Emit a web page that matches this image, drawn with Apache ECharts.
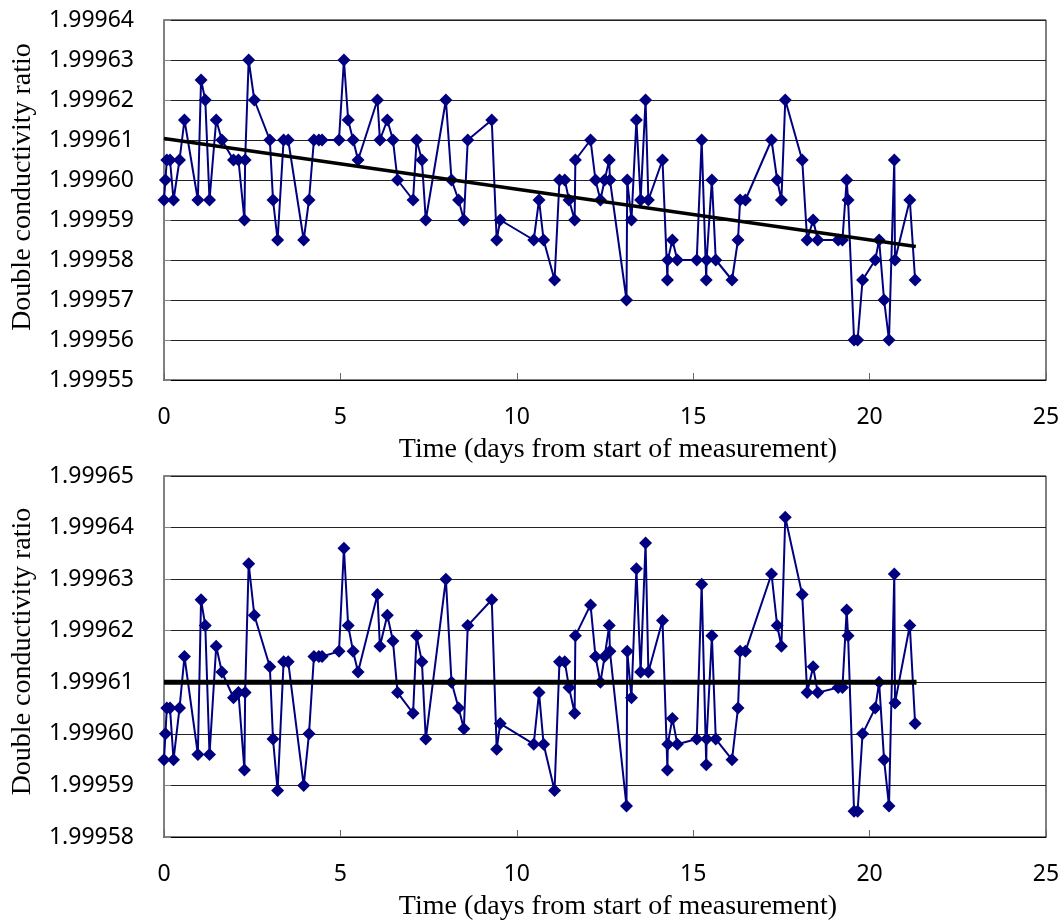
<!DOCTYPE html>
<html>
<head>
<meta charset="utf-8">
<script src="https://cdn.jsdelivr.net/npm/echarts@6/dist/echarts.min.js"></script>
<style>
  html, body { margin: 0; padding: 0; background: #fff; }
  #chart { width: 1064px; height: 924px; }
</style>
</head>
<body>
<div id="chart"></div>
<script>
// time in days (shared by both panels)
var days = [
  0.00, 0.04, 0.08, 0.17, 0.27, 0.44, 0.58, 0.96, 1.05, 1.17,
  1.29, 1.48, 1.64, 1.97, 2.11, 2.28, 2.30, 2.40, 2.56, 3.00,
  3.09, 3.22, 3.39, 3.52, 3.96, 4.11, 4.25, 4.39, 4.48, 4.96,
  5.10, 5.22, 5.36, 5.50, 6.05, 6.12, 6.33, 6.49, 6.62, 7.06,
  7.16, 7.31, 7.42, 7.99, 8.15, 8.35, 8.50, 8.61, 9.29, 9.43,
  9.53, 10.48, 10.63, 10.76, 11.07, 11.21, 11.36, 11.48, 11.64, 11.66,
  12.09, 12.23, 12.37, 12.49, 12.62, 12.64, 13.11, 13.13, 13.25, 13.39,
  13.51, 13.65, 13.73, 14.13, 14.27, 14.28, 14.41, 14.55, 15.10, 15.24,
  15.37, 15.38, 15.53, 15.64, 16.10, 16.27, 16.33, 16.48, 17.22, 17.38,
  17.50, 17.61, 18.09, 18.23, 18.40, 18.53, 19.11, 19.23, 19.35, 19.39,
  19.56, 19.66, 19.80, 20.16, 20.27, 20.41, 20.55, 20.70, 20.72, 21.14,
  21.29
];

// raw ratio (top panel)
var rawRatio = [
  1.999595, 1.999600, 1.999605, 1.999605, 1.999595, 1.999605, 1.999615, 1.999595, 1.999625, 1.999620,
  1.999595, 1.999615, 1.999610, 1.999605, 1.999605, 1.999590, 1.999605, 1.999630, 1.999620, 1.999610,
  1.999595, 1.999585, 1.999610, 1.999610, 1.999585, 1.999595, 1.999610, 1.999610, 1.999610, 1.999610,
  1.999630, 1.999615, 1.999610, 1.999605, 1.999620, 1.999610, 1.999615, 1.999610, 1.999600, 1.999595,
  1.999610, 1.999605, 1.999590, 1.999620, 1.999600, 1.999595, 1.999590, 1.999610, 1.999615, 1.999585,
  1.999590, 1.999585, 1.999595, 1.999585, 1.999575, 1.999600, 1.999600, 1.999595, 1.999590, 1.999605,
  1.999610, 1.999600, 1.999595, 1.999600, 1.999605, 1.999600, 1.999570, 1.999600, 1.999590, 1.999615,
  1.999595, 1.999620, 1.999595, 1.999605, 1.999575, 1.999580, 1.999585, 1.999580, 1.999580, 1.999610,
  1.999575, 1.999580, 1.999600, 1.999580, 1.999575, 1.999585, 1.999595, 1.999595, 1.999610, 1.999600,
  1.999595, 1.999620, 1.999605, 1.999585, 1.999590, 1.999585, 1.999585, 1.999585, 1.999600, 1.999595,
  1.999560, 1.999560, 1.999575, 1.999580, 1.999585, 1.999570, 1.999560, 1.999605, 1.999580, 1.999595,
  1.999575
];

// drift-corrected ratio (bottom panel)
var corrRatio = [
  1.999595, 1.999600, 1.999605, 1.999605, 1.999595, 1.999605, 1.999615, 1.999596, 1.999626, 1.999621,
  1.999596, 1.999617, 1.999612, 1.999607, 1.999608, 1.999593, 1.999608, 1.999633, 1.999623, 1.999613,
  1.999599, 1.999589, 1.999614, 1.999614, 1.999590, 1.999600, 1.999615, 1.999615, 1.999615, 1.999616,
  1.999636, 1.999621, 1.999616, 1.999612, 1.999627, 1.999617, 1.999623, 1.999618, 1.999608, 1.999604,
  1.999619, 1.999614, 1.999599, 1.999630, 1.999610, 1.999605, 1.999601, 1.999621, 1.999626, 1.999597,
  1.999602, 1.999598, 1.999608, 1.999598, 1.999589, 1.999614, 1.999614, 1.999609, 1.999604, 1.999619,
  1.999625, 1.999615, 1.999610, 1.999615, 1.999621, 1.999616, 1.999586, 1.999616, 1.999607, 1.999632,
  1.999612, 1.999637, 1.999612, 1.999622, 1.999593, 1.999598, 1.999603, 1.999598, 1.999599, 1.999629,
  1.999594, 1.999599, 1.999619, 1.999599, 1.999595, 1.999605, 1.999616, 1.999616, 1.999631, 1.999621,
  1.999617, 1.999642, 1.999627, 1.999608, 1.999613, 1.999608, 1.999609, 1.999609, 1.999624, 1.999619,
  1.999585, 1.999585, 1.999600, 1.999605, 1.999610, 1.999595, 1.999586, 1.999631, 1.999606, 1.999621,
  1.999602
];

// fitted lines (end points)
var trendTop = [[0, 1.9996104], [21.31, 1.9995834]];
var trendBottom = [[0, 1.99961], [21.33, 1.99961]];

var xTitle = "Time (days from start of measurement)";
var yTitle = "Double conductivity ratio";

function pairs(xs, ys) {
  var res = [];
  for (var i = 0; i < xs.length; i++) res.push([xs[i], ys[i]]);
  return res;
}

var tickFont = { fontFamily: "Noto Sans", fontSize: 23, color: "#000" };

function titleFont(pad) {
  return { fontFamily: "Liberation Serif", fontSize: 28, color: "#000", padding: pad };
}

function xAxisFor(idx) {
  return {
    type: "value",
    gridIndex: idx,
    min: 0,
    max: 25,
    interval: 5,
    name: xTitle,
    nameLocation: "middle",
    nameGap: 56,
    nameTextStyle: titleFont([0, 0, 0, 26]),
    axisLine: { show: true, onZero: false, lineStyle: { color: "#000", width: 1 } },
    axisTick: { show: true, inside: true, length: 7, lineStyle: { color: "#666" } },
    axisLabel: Object.assign({ margin: 26 }, tickFont),
    splitLine: { show: false }
  };
}

function yAxisFor(idx, min, max, shift) {
  return {
    type: "value",
    gridIndex: idx,
    min: min,
    max: max,
    interval: 0.00001,
    name: yTitle,
    nameLocation: "middle",
    nameRotate: 90,
    nameGap: 127,
    nameTextStyle: titleFont([0, 0, 0, shift]),
    axisLine: { show: true, lineStyle: { color: "#808080", width: 2 } },
    axisTick: { show: true, inside: true, length: 7, lineStyle: { color: "#808080" } },
    axisLabel: Object.assign({
      margin: 30,
      formatter: function (v) { return v.toFixed(5); }
    }, tickFont),
    splitLine: { show: true, lineStyle: { color: "#222", width: 1 } }
  };
}

function dataSeries(idx, vals) {
  return {
    type: "line",
    xAxisIndex: idx,
    yAxisIndex: idx,
    data: pairs(days, vals),
    symbol: "diamond",
    symbolSize: 13,
    showAllSymbol: true,
    lineStyle: { color: "#000080", width: 2 },
    itemStyle: { color: "#000080" },
    z: 3
  };
}

function fitSeries(idx, pts, w) {
  return {
    type: "line",
    xAxisIndex: idx,
    yAxisIndex: idx,
    data: pts,
    symbol: "none",
    lineStyle: { color: "#000", width: w },
    z: 4
  };
}

var chart = echarts.init(document.getElementById("chart"));
chart.setOption({
  animation: false,
  backgroundColor: "#fff",
  grid: [
    { left: 164, top: 20, width: 882, height: 360, show: true, borderColor: "#000", borderWidth: 1 },
    { left: 164, top: 476, width: 882, height: 361, show: true, borderColor: "#000", borderWidth: 1 }
  ],
  xAxis: [xAxisFor(0), xAxisFor(1)],
  yAxis: [yAxisFor(0, 1.99955, 1.99964, 26), yAxisFor(1, 1.99958, 1.99965, 10)],
  series: [
    dataSeries(0, rawRatio),
    fitSeries(0, trendTop, 3.5),
    dataSeries(1, corrRatio),
    fitSeries(1, trendBottom, 5)
  ]
});
</script>
</body>
</html>
